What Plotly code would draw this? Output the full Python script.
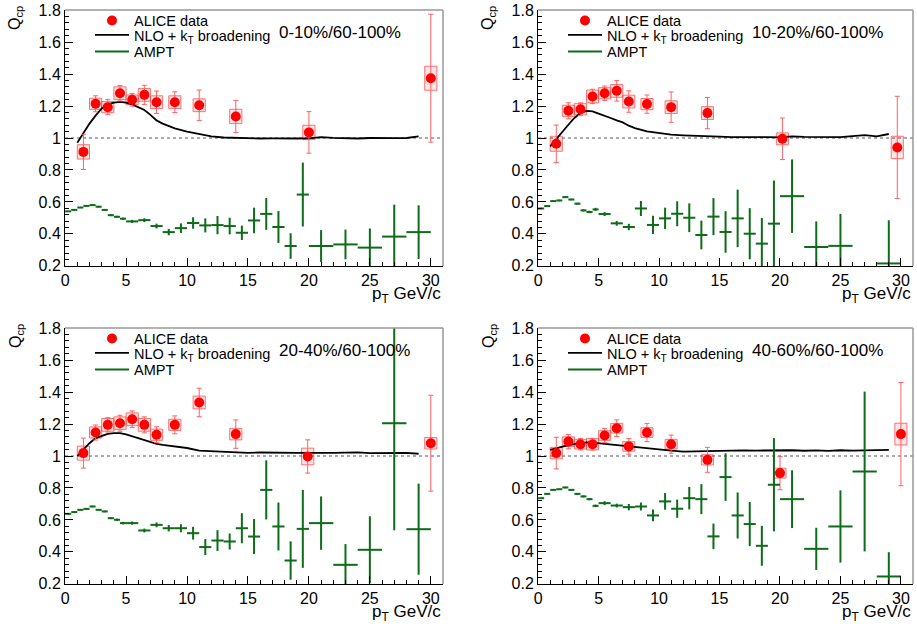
import plotly.graph_objects as go

W, H = 917, 624

# ---------------- data ----------------
panel_labels = ["0-10%/60-100%", "10-20%/60-100%", "20-40%/60-100%", "40-60%/60-100%"]
legend_names = ["ALICE data", "NLO + k<sub>T</sub> broadening", "AMPT"]

alice_x_low = [1.5, 2.5, 3.5, 4.5, 5.5, 6.5, 7.5, 9, 11]
alice_x_tl = alice_x_low + [14, 20, 30]
alice_x_tr = alice_x_low + [14, 20.2, 29.7]
alice_x_bl = alice_x_low + [14, 19.9, 30]
alice_x_br = alice_x_low + [14, 20, 30]

alice_y_tl = [0.913, 1.214, 1.193, 1.28, 1.239, 1.27, 1.224, 1.224, 1.205, 1.135, 1.035, 1.374]
alice_stat_tl = [0.11, 0.05, 0.047, 0.048, 0.04, 0.06, 0.07, 0.065, 0.095, 0.1, 0.13, 0.40]
alice_sys_tl = [0.045, 0.035, 0.035, 0.04, 0.03, 0.04, 0.04, 0.04, 0.04, 0.045, 0.045, 0.075]

alice_y_tr = [0.964, 1.17, 1.18, 1.26, 1.28, 1.295, 1.228, 1.212, 1.193, 1.156, 0.995, 0.941]
alice_stat_tr = [0.117, 0.05, 0.04, 0.045, 0.045, 0.064, 0.067, 0.057, 0.095, 0.098, 0.13, 0.32]
alice_sys_tr = [0.047, 0.035, 0.035, 0.04, 0.035, 0.04, 0.04, 0.035, 0.04, 0.04, 0.037, 0.07]

alice_y_bl = [1.018, 1.147, 1.195, 1.205, 1.23, 1.195, 1.133, 1.195, 1.335, 1.137, 0.997, 1.08]
alice_stat_bl = [0.094, 0.047, 0.045, 0.05, 0.052, 0.05, 0.05, 0.056, 0.089, 0.089, 0.104, 0.30]
alice_sys_bl = [0.044, 0.035, 0.04, 0.04, 0.04, 0.04, 0.035, 0.035, 0.04, 0.036, 0.052, 0.036]

alice_y_br = [1.018, 1.09, 1.074, 1.074, 1.128, 1.174, 1.06, 1.147, 1.074, 0.976, 0.893, 1.137]
alice_stat_br = [0.099, 0.045, 0.036, 0.036, 0.045, 0.052, 0.049, 0.057, 0.057, 0.078, 0.104, 0.323]
alice_sys_br = [0.036, 0.03, 0.03, 0.036, 0.03, 0.03, 0.03, 0.03, 0.03, 0.032, 0.031, 0.068]

nlo_x = [1, 1.5, 2, 2.5, 3, 3.5, 4, 4.5, 5, 5.5, 6, 6.5, 7, 7.5, 8, 9, 10, 11, 12, 13,
         14, 15, 16, 17, 18, 19, 20, 21, 22, 23, 24, 25, 26, 27, 28, 29]
nlo_tl = [0.97, 1.03, 1.09, 1.14, 1.185, 1.21, 1.222, 1.226, 1.222, 1.21, 1.195, 1.175, 1.145, 1.11, 1.09,
          1.06, 1.04, 1.025, 1.01, 1.003,
          1.0, 0.998, 0.997, 0.998, 0.996, 0.997, 0.998, 1.006, 1.001, 0.999, 0.997, 1.0, 0.998, 0.999, 1.0, 1.01]
nlo_tr = [0.948, 0.994, 1.042, 1.083, 1.125, 1.156, 1.17, 1.166, 1.152, 1.14, 1.125, 1.11, 1.098, 1.077, 1.062,
          1.042, 1.031, 1.021, 1.017, 1.013,
          1.01, 1.008, 1.006, 1.007, 1.005, 1.006, 1.004, 1.01, 1.007, 1.006, 1.008, 1.005, 1.012, 1.018, 1.01, 1.025]
nlo_bl = [1.0, 1.04, 1.08, 1.112, 1.128, 1.139, 1.143, 1.143, 1.135, 1.124, 1.112, 1.1, 1.091, 1.076, 1.07,
          1.06, 1.05, 1.034, 1.03, 1.026,
          1.022, 1.02, 1.022, 1.02, 1.021, 1.019, 1.02, 1.022, 1.02, 1.021, 1.023, 1.018, 1.02, 1.021, 1.02, 1.014]
nlo_br = [1.039, 1.05, 1.06, 1.068, 1.074, 1.08, 1.085, 1.084, 1.08, 1.077, 1.074, 1.069, 1.064, 1.06, 1.055,
          1.047, 1.039, 1.034, 1.028, 1.03,
          1.032, 1.034, 1.033, 1.035, 1.034, 1.036, 1.034, 1.036, 1.033, 1.035, 1.032, 1.036, 1.034, 1.035, 1.037, 1.038]

ampt_x = [0.25, 0.75, 1.25, 1.75, 2.25, 2.75, 3.25, 3.75, 4.25, 4.75,
          5.5, 6.5, 7.5, 8.5, 9.5, 10.5, 11.5, 12.5, 13.5, 14.5, 15.5, 16.5, 17.5, 18.5, 19.5,
          21, 23, 25, 27, 29]
ampt_xerr = [0.25] * 10 + [0.5] * 15 + [1.0] * 5

ampt_tl = [0.541, 0.55, 0.565, 0.575, 0.58, 0.57, 0.55, 0.517, 0.507, 0.495,
           0.478, 0.486, 0.449, 0.411, 0.436, 0.468, 0.453, 0.455, 0.449, 0.407, 0.484, 0.525, 0.443, 0.324, 0.646,
           0.324, 0.334, 0.314, 0.383, 0.411]
ampt_tl_err = [0.004, 0.004, 0.004, 0.004, 0.005, 0.005, 0.005, 0.006, 0.006, 0.007,
               0.01, 0.012, 0.015, 0.02, 0.03, 0.036, 0.044, 0.057, 0.052, 0.045, 0.08, 0.1, 0.1, 0.08, 0.2,
               0.1, 0.093, 0.12, 0.2, 0.168]

ampt_tr = [0.559, 0.574, 0.605, 0.609, 0.63, 0.615, 0.589, 0.547, 0.537, 0.553,
           0.524, 0.466, 0.443, 0.559, 0.456, 0.497, 0.526, 0.501, 0.393, 0.508, 0.412, 0.497, 0.401, 0.339, 0.464,
           0.636, 0.318, 0.325, None, 0.215]
ampt_tr_err = [0.004, 0.004, 0.004, 0.005, 0.005, 0.005, 0.006, 0.007, 0.008, 0.01,
               0.012, 0.015, 0.02, 0.047, 0.057, 0.067, 0.078, 0.09, 0.09, 0.116, 0.13, 0.18, 0.16, 0.16, 0.27,
               0.23, 0.16, 0.2, None, 0.27]

ampt_bl = [0.638, 0.649, 0.663, 0.669, 0.684, 0.663, 0.653, 0.611, 0.601, 0.58,
           0.58, 0.534, 0.569, 0.548, 0.548, 0.517, 0.43, 0.471, 0.465, 0.548, 0.496, 0.788, 0.559, 0.346, 0.544,
           0.58, 0.319, 0.413, 1.205, 0.542]
ampt_bl_err = [0.004, 0.004, 0.004, 0.004, 0.005, 0.005, 0.005, 0.006, 0.007, 0.008,
               0.01, 0.012, 0.015, 0.02, 0.025, 0.04, 0.05, 0.065, 0.05, 0.094, 0.11, 0.185, 0.15, 0.12, 0.244,
               0.167, 0.13, 0.21, 0.67, 0.285]

ampt_br = [0.736, 0.763, 0.788, 0.792, 0.803, 0.788, 0.763, 0.747, 0.73, 0.688,
           0.705, 0.69, 0.68, 0.684, 0.628, 0.716, 0.67, 0.736, 0.73, 0.497, 0.868, 0.628, 0.574, 0.438, 0.82,
           0.73, 0.419, 0.559, 0.903, 0.246]
ampt_br_err = [0.004, 0.004, 0.004, 0.004, 0.005, 0.005, 0.005, 0.006, 0.007, 0.008,
               0.012, 0.012, 0.02, 0.025, 0.037, 0.052, 0.057, 0.07, 0.094, 0.08, 0.149, 0.144, 0.138, 0.125, 0.292,
               0.181, 0.132, 0.226, 0.5, 0.152]

y_ticks = [0.2, 0.4, 0.6, 0.8, 1.0, 1.2, 1.4, 1.6, 1.8]
x_ticks = [0, 5, 10, 15, 20, 25, 30]

# ---------------- style ----------------
FONT = "Liberation Sans, Arial, Helvetica, sans-serif"
RED = "#ff0000"
ERR_RED = "#ff6060"
GREEN = "#0d6b1a"

# pixel geometry of the four frames (left, right, top, bottom)
frames = [(65, 443, 10, 266), (538, 913, 10, 266), (65, 443, 328, 584), (538, 913, 328, 584)]
legend_row_offsets = [10.5, 25, 41.5]

panels = [
    (alice_x_tl, alice_y_tl, alice_stat_tl, alice_sys_tl, nlo_tl, ampt_tl, ampt_tl_err),
    (alice_x_tr, alice_y_tr, alice_stat_tr, alice_sys_tr, nlo_tr, ampt_tr, ampt_tr_err),
    (alice_x_bl, alice_y_bl, alice_stat_bl, alice_sys_bl, nlo_bl, ampt_bl, ampt_bl_err),
    (alice_x_br, alice_y_br, alice_stat_br, alice_sys_br, nlo_br, ampt_br, ampt_br_err),
]

fig = go.Figure()
layout = dict(width=W, height=H, margin=dict(l=0, r=0, t=0, b=0, autoexpand=False),
              paper_bgcolor="white", plot_bgcolor="white", barmode="overlay",
              font=dict(family=FONT, color="black"), showlegend=True)
annotations = []
shapes = []

for i, (ax_x, ay, astat, asys, nlo, ampt, ampt_err) in enumerate(panels):
    n = i + 1
    xa = "x" if n == 1 else f"x{n}"
    ya = "y" if n == 1 else f"y{n}"
    L, R, T, B = frames[i]
    lgs = []
    for k in range(3):
        idx = 3 * i + k + 1
        lgs.append("legend" if idx == 1 else f"legend{idx}")

    # systematic boxes
    fig.add_trace(go.Bar(x=ax_x, y=[2 * s for s in asys], base=[v - s for v, s in zip(ay, asys)],
                         width=1.0, xaxis=xa, yaxis=ya, showlegend=False,
                         marker=dict(color="rgba(255,0,0,0.10)", line=dict(color="rgba(255,70,70,0.75)", width=1))))
    # NLO curve
    fig.add_trace(go.Scatter(x=nlo_x, y=nlo, mode="lines", name=legend_names[1],
                             xaxis=xa, yaxis=ya, legend=lgs[1], line=dict(color="black", width=1.8)))
    # ALICE data
    fig.add_trace(go.Scatter(x=ax_x, y=ay, mode="markers", name=legend_names[0], xaxis=xa, yaxis=ya,
                             legend=lgs[0], marker=dict(color=RED, size=10),
                             error_y=dict(type="data", array=astat, color=ERR_RED, thickness=1, width=2.5)))
    # AMPT legend entry
    fig.add_trace(go.Scatter(x=[None], y=[None], mode="lines", name=legend_names[2], xaxis=xa, yaxis=ya,
                             legend=lgs[2], line=dict(color=GREEN, width=2)))
    # AMPT points
    fig.add_trace(go.Scatter(x=ampt_x, y=ampt, mode="markers", xaxis=xa, yaxis=ya, showlegend=False,
                             marker=dict(size=0.1, color=GREEN),
                             error_x=dict(type="data", array=ampt_xerr, color=GREEN, thickness=2, width=0),
                             error_y=dict(type="data", array=ampt_err, color=GREEN, thickness=2, width=0)))

    dom_x = [L / W, R / W]
    dom_y = [1 - B / H, 1 - T / H]
    layout["xaxis" if n == 1 else f"xaxis{n}"] = dict(
        domain=dom_x, range=[-0.01, 31], anchor=ya, tickvals=x_ticks, ticks="inside", ticklen=8,
        tickwidth=1, tickcolor="black", showline=True, linecolor="black", linewidth=1, mirror=False,
        showgrid=False, zeroline=False, automargin=False, tickfont=dict(size=16, family=FONT),
        minor=dict(ticks="inside", ticklen=4, dtick=1, tickcolor="black", showgrid=False))
    layout["yaxis" if n == 1 else f"yaxis{n}"] = dict(
        domain=dom_y, range=[0.199, 1.801], anchor=xa, tickvals=y_ticks, ticks="inside", ticklen=8,
        tickwidth=1, tickcolor="black", showline=True, linecolor="black", linewidth=1, mirror=False,
        showgrid=False, zeroline=False, automargin=False, tickfont=dict(size=16, family=FONT),
        minor=dict(ticks="inside", ticklen=4, dtick=0.04, tickcolor="black", showgrid=False))

    for k in range(3):
        layout[lgs[k]] = dict(x=(L + 25) / W, y=1 - (T + legend_row_offsets[k]) / H, xanchor="left",
                              yanchor="middle", bgcolor="rgba(0,0,0,0)", font=dict(size=14.5, family=FONT),
                              itemwidth=34, borderwidth=0)

    # dotted reference line at 1
    shapes.append(dict(type="line", xref=f"{xa} domain", x0=0, x1=1, yref=ya, y0=1, y1=1,
                       line=dict(color="#555555", width=1, dash="dot"), layer="below"))
    # top / right frame
    shapes.append(dict(type="line", xref="paper", yref="paper", x0=L / W, x1=R / W, y0=1 - T / H, y1=1 - T / H,
                       line=dict(color="#999999", width=1.5)))
    shapes.append(dict(type="line", xref="paper", yref="paper", x0=R / W, x1=R / W, y0=1 - T / H, y1=1 - B / H,
                       line=dict(color="#999999", width=1.5)))

    # y title
    annotations.append(dict(text="Q<sub>cp</sub>", xref="paper", yref="paper", x=(L - 49) / W, y=1 - (T - 6) / H,
                            xanchor="center", yanchor="top", textangle=-90, showarrow=False,
                            font=dict(size=16, family=FONT)))
    # x title
    annotations.append(dict(text="p<sub>T</sub> GeV/c", xref="paper", yref="paper", x=R / W, y=1 - (B + 16) / H,
                            xanchor="right", yanchor="top", showarrow=False, font=dict(size=17, family=FONT)))
    # centrality label
    annotations.append(dict(text=panel_labels[i], xref="paper", yref="paper", x=(L + 212) / W, y=1 - (T + 22) / H,
                            xanchor="left", yanchor="middle", showarrow=False, font=dict(size=17, family=FONT)))

layout["annotations"] = annotations
layout["shapes"] = shapes
fig.update_layout(**layout)
fig.write_html("out.html", config={"displayModeBar": False},
               post_script="document.body.style.margin='0';")
